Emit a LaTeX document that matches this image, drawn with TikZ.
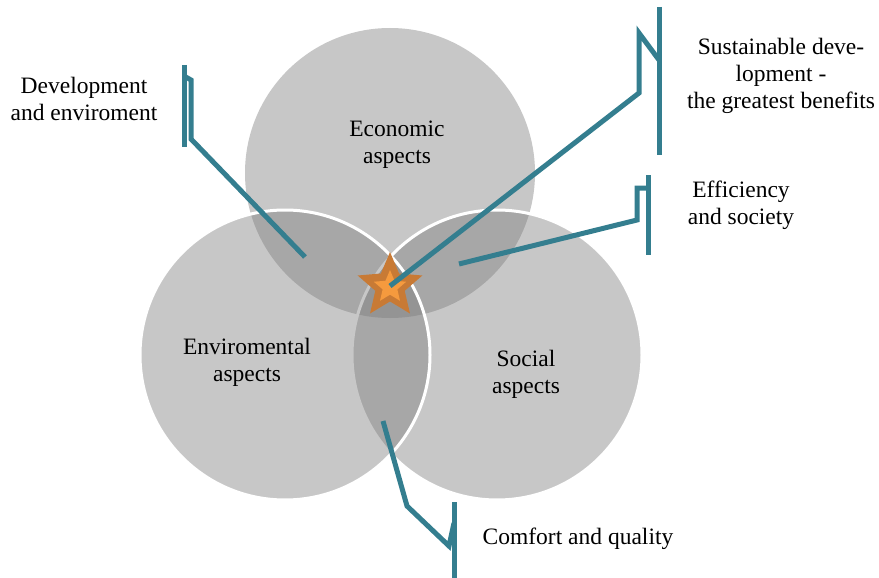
\documentclass[tikz,border=0pt]{standalone}
\usepackage{fontspec}
\setmainfont{Liberation Serif}
\usetikzlibrary{shapes.geometric}
\definecolor{leader}{HTML}{347E8F}
\definecolor{stardark}{HTML}{C87A35}
\definecolor{starlight}{HTML}{F59A3E}
\tikzset{
  aspect/.style={circle,minimum size=290pt,inner sep=0pt,fill=black!52,fill opacity=0.42},
  rim/.style={draw=white,draw opacity=1,line width=3pt},
  caption/.style={align=center,font=\fontsize{23.5}{27}\selectfont},
  leaderline/.style={draw=leader,line width=5pt},
  spark/.style={star,star points=5,star point ratio=2.2,inner sep=0pt},
}
\begin{document}
\begin{tikzpicture}[x=1pt,y=-1pt]
\useasboundingbox (0,0) rectangle (879,578);
\node[aspect] (econ) at (390,173) {};
\node[aspect,rim] (social) at (497,355) {};
\node[aspect,rim] (envir) at (285,355) {};
\node[caption] (econtext) at (397,145) {Economic\\aspects};
\node[caption] (envirtext) at (247,362) {Enviromental\\aspects};
\node[caption] (socialtext) at (526,374) {Social\\aspects};
\node[caption] (devtext) at (84,99) {Development\\and enviroment};
\node[caption] (sustext) at (781,76) {Sustainable deve-\\lopment -\\the greatest benefits};
\node[caption] (efftext) at (741,205) {Efficiency\\and society};
\node[caption] (comftext) at (578,539) {Comfort and quality};
\node[spark,minimum size=68pt,fill=stardark] (core) at (390,286) {};
\node[spark,minimum size=34pt,fill=starlight] (corein) at (390,287) {};
\coordinate (devtop) at (184,65);
\coordinate (devbot) at (184,147);
\coordinate (devhook) at (184,76);
\coordinate (devend) at (305,257);
\draw[leaderline] (devtop) -- (devbot);
\draw[leaderline] (devhook) -- ++(7,4) -- ++(0,59) -- (devend);
\coordinate (sustop) at (659,7);
\coordinate (susbot) at (659,155);
\coordinate (sushook) at (659,60);
\draw[leaderline] (sustop) -- (susbot);
\draw[leaderline] (sushook) -- ++(-20,-27) -- ++(0,60) -- (core.center);
\coordinate (efftop) at (648,175);
\coordinate (effbot) at (648,255);
\coordinate (effhook) at (648,188);
\coordinate (effend) at (459,264);
\draw[leaderline] (efftop) -- (effbot);
\draw[leaderline] (effhook) -- ++(-11,0) -- ++(0,32) -- (effend);
\coordinate (comftop) at (454,502);
\coordinate (comfbot) at (454,578);
\coordinate (comfhook) at (454,523);
\coordinate (comfend) at (383,421);
\draw[leaderline] (comftop) -- (comfbot);
\draw[leaderline] (comfhook) -- ++(-5,23) -- ++(-42,-40) -- (comfend);
\end{tikzpicture}
\end{document}
